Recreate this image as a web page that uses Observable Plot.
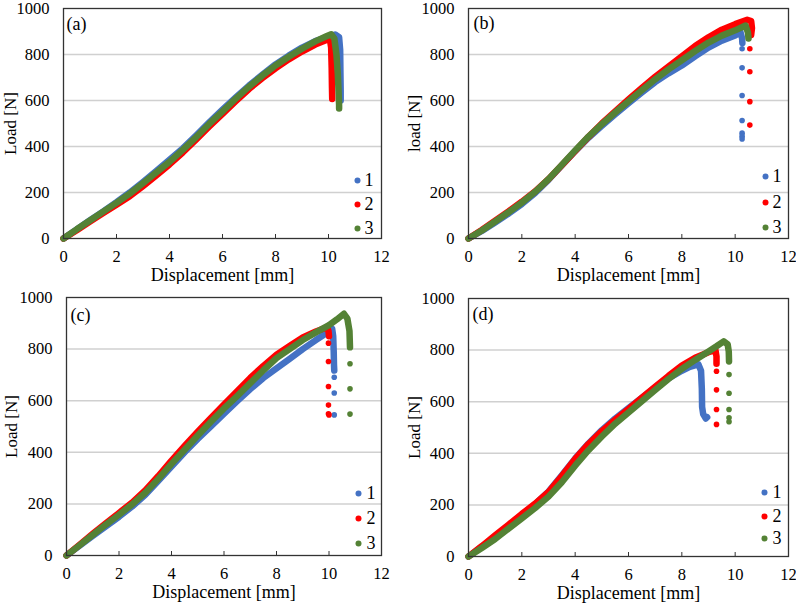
<!DOCTYPE html>
<html>
<head>
<meta charset="utf-8">
<script src="https://cdn.jsdelivr.net/npm/d3@7"></script>
<script src="https://cdn.jsdelivr.net/npm/@observablehq/plot@0.6"></script>
<style>
  body { margin: 0; background: #fff; }
  #chart { position: relative; width: 796px; height: 604px; overflow: hidden; background: #fff; }
  .panel { position: absolute; }
  #chart svg, #chart svg g, #chart svg text { font-family: "Liberation Serif", "DejaVu Serif", serif !important; }
  #chart g[aria-label="y-axis tick label"], #chart g[aria-label="x-axis tick label"] { font-size: 16.5px !important; }
</style>
</head>
<body>
<div id="chart"></div>
<script>
// axes
const xTicks = [0, 2, 4, 6, 8, 10, 12];
const yTicks = [0, 200, 400, 600, 800, 1000];
const gridLoads = [200, 400, 600, 800];
const specimens = ["1", "2", "3"];
const colors = ["#4472C4", "#FF0000", "#548235"];

// [displacement mm, load N]
// (a)
const a1 = [[0,0],[0.5,40],[1,80],[1.5,118],[2,158],[2.5,200],[3,246],[3.5,294],[4,342],[4.5,392],[5,448],[5.5,505],[6,560],[6.5,613],[7,665],[7.5,712],[8,757],[8.5,795],[9,830],[9.5,858],[10,878],[10.25,887],[10.4,875],[10.44,820],[10.45,720],[10.46,640],[10.46,600]];
const a2 = [[0,0],[0.5,36],[1,74],[1.5,111],[2,147],[2.5,184],[3,228],[3.5,274],[4,322],[4.5,374],[5,430],[5.5,487],[6,542],[6.5,597],[7,650],[7.5,697],[8,740],[8.5,779],[9,813],[9.5,843],[9.9,862],[10.05,868],[10.1,830],[10.12,740],[10.13,660],[10.14,607]];
const a3 = [[0,0],[0.5,40],[1,78],[1.5,117],[2,155],[2.5,195],[3,240],[3.5,287],[4,333],[4.5,385],[5,440],[5.5,498],[6,553],[6.5,608],[7,660],[7.5,708],[8,752],[8.5,790],[9,825],[9.5,857],[9.9,878],[10.1,888],[10.22,870],[10.3,800],[10.35,720],[10.38,640],[10.4,580],[10.4,565]];
// (b)
const b1 = [[0,0],[0.5,33],[1,70],[1.5,108],[2,150],[2.5,198],[3,255],[3.5,318],[4,380],[4.5,438],[5,490],[5.5,540],[6,588],[6.5,635],[7,680],[7.5,718],[8,752],[8.5,792],[9,830],[9.5,860],[10,883],[10.2,897],[10.26,870],[10.27,850]];
const b1Tail = [[10.26,825],[10.26,742],[10.26,622],[10.26,513],[10.26,458],[10.26,445],[10.26,433]];
const b2 = [[0,0],[0.5,37],[1,78],[1.5,118],[2,160],[2.5,205],[3,258],[3.5,318],[4,380],[4.5,442],[5,500],[5.5,553],[6,605],[6.5,655],[7,703],[7.5,748],[8,792],[8.5,837],[9,875],[9.5,908],[10,932],[10.45,951],[10.6,945],[10.63,915],[10.6,885]];
const b2Tail = [[10.55,825],[10.55,725],[10.55,595],[10.55,493]];
const b3 = [[0,0],[0.5,35],[1,74],[1.5,114],[2,156],[2.5,203],[3,258],[3.5,320],[4,383],[4.5,443],[5,497],[5.5,548],[6,597],[6.5,645],[7,692],[7.5,735],[8,775],[8.5,815],[9,852],[9.5,882],[10,905],[10.39,926],[10.48,895],[10.5,870]];
// (c)
const c1 = [[0,0],[0.5,38],[1,76],[1.5,113],[2,150],[2.5,190],[3,235],[3.5,290],[4,345],[4.5,400],[5,452],[5.5,500],[6,550],[6.5,598],[7,645],[7.5,688],[8,725],[8.5,762],[9,800],[9.5,835],[10,868],[10.12,879],[10.16,850],[10.18,790],[10.19,740],[10.2,717]];
const c1Tail = [[10.2,691],[10.2,630],[10.2,545]];
const c2 = [[0,0],[0.5,42],[1,84],[1.5,125],[2,165],[2.5,205],[3,252],[3.5,308],[4,368],[4.5,425],[5,480],[5.5,533],[6,585],[6.5,637],[7,688],[7.5,735],[8,778],[8.5,812],[9,845],[9.5,868],[9.93,885],[9.98,870],[10,850]];
const c2Tail = [[9.98,823],[9.98,752],[9.98,655],[9.98,583],[9.98,549],[10,545]];
const c3 = [[0,0],[0.5,40],[1,80],[1.5,120],[2,158],[2.5,198],[3,243],[3.5,297],[4,355],[4.5,410],[5,465],[5.5,518],[6,570],[6.5,618],[7,668],[7.5,718],[8,765],[8.5,800],[9,835],[9.5,865],[10,893],[10.3,915],[10.57,937],[10.7,918],[10.78,870],[10.8,807]];
const c3Tail = [[10.8,743],[10.8,646],[10.8,548]];
// (d)
const d1 = [[0,0],[0.5,38],[1,76],[1.5,117],[2,158],[2.5,203],[3,252],[3.5,315],[4,380],[4.5,438],[5,490],[5.5,535],[6,575],[6.5,615],[7,655],[7.5,690],[8,720],[8.3,735],[8.62,745],[8.72,720],[8.75,650],[8.76,580],[8.8,552],[8.9,535],[8.95,540]];
const d2 = [[0,0],[0.5,40],[1,82],[1.5,123],[2,165],[2.5,205],[3,250],[3.5,312],[4,378],[4.5,436],[5,486],[5.5,530],[6,572],[6.5,615],[7,658],[7.5,700],[8,740],[8.5,770],[9,792],[9.26,800],[9.3,775],[9.3,747]];
const d2Tail = [[9.3,718],[9.3,646],[9.3,570],[9.3,512]];
const d3 = [[0,0],[0.5,33],[1,68],[1.5,108],[2,148],[2.5,188],[3,232],[3.5,288],[4,352],[4.5,412],[5,465],[5.5,515],[6,558],[6.5,602],[7,645],[7.5,688],[8,727],[8.5,762],[9,795],[9.3,815],[9.57,834],[9.72,822],[9.76,795],[9.77,756]];
const d3Tail = [[9.77,705],[9.77,633],[9.77,570],[9.77,538],[9.77,522]];

const panels = [
  {tag: "(a)", yLabel: "Load [N]", curves: [a1, a2, a3], tails: [[], [], []],
   left: 0, top: 0, width: 398, height: 290, ml: 63, mr: 17, mt: 8, mb: 52,
   tagDx: 3, tagDy: 16, legDot: -24, legText: -17, legDy: [-58, -34, -10], yLabDx: -53},
  {tag: "(b)", yLabel: "load [N]", curves: [b1, b2, b3], tails: [b1Tail, b2Tail, []],
   left: 400, top: 0, width: 396, height: 290, ml: 68, mr: 8, mt: 8, mb: 52,
   tagDx: 5, tagDy: 15, legDot: -23, legText: -16, legDy: [-62, -36, -11], yLabDx: -54},
  {tag: "(c)", yLabel: "Load [N]", curves: [c1, c2, c3], tails: [c1Tail, c2Tail, c3Tail],
   left: 0, top: 284, width: 398, height: 320, ml: 66, mr: 17, mt: 13, mb: 49,
   tagDx: 4, tagDy: 18, legDot: -23, legText: -15, legDy: [-62, -37, -12], yLabDx: -55},
  {tag: "(d)", yLabel: "Load [N]", curves: [d1, d2, d3], tails: [[], d2Tail, d3Tail],
   left: 400, top: 284, width: 396, height: 320, ml: 68, mr: 8, mt: 14, mb: 48,
   tagDx: 4, tagDy: 16, legDot: -24, legText: -16, legDy: [-64, -40, -18], yLabDx: -54}
];

const font = "'Liberation Serif', 'DejaVu Serif', serif";
const chart = document.getElementById("chart");

function drawPanel(p) {
  const innerH = p.height - p.mt - p.mb;
  const txt = {fontFamily: font};
  const marks = [
    Plot.gridY(gridLoads, {stroke: "#d0d0d0", strokeOpacity: 1, strokeWidth: 1.5}),
    Plot.ruleX(xTicks.slice(1, -1), {stroke: "#333", insetTop: innerH - 4}),
    Plot.axisY(yTicks, {...txt, tickSize: 0, tickPadding: 14, label: null, fontSize: 16.5, tickFormat: d => String(d)}),
    Plot.axisX(xTicks, {...txt, tickSize: 0, tickPadding: 12, label: null, fontSize: 16.5, tickFormat: d => String(d)}),
    Plot.text(["Displacement [mm]"], {...txt, text: d => d, frameAnchor: "bottom", dy: 30, lineAnchor: "top", fontSize: 18}),
    Plot.text([p.yLabel], {...txt, text: d => d, frameAnchor: "left", dx: p.yLabDx, rotate: -90, textAnchor: "middle", lineAnchor: "middle", fontSize: 17}),
    Plot.text([p.tag], {...txt, text: d => d, frameAnchor: "top-left", dx: p.tagDx, dy: p.tagDy, textAnchor: "start", lineAnchor: "middle", fontSize: 18})
  ];
  p.curves.forEach((curve, i) => {
    marks.push(Plot.line(curve, {x: d => d[0], y: d => d[1], stroke: colors[i], strokeWidth: 6.5,
      strokeLinejoin: "round", strokeLinecap: "round"}));
    if (p.tails[i].length) {
      marks.push(Plot.dot(p.tails[i], {x: d => d[0], y: d => d[1], r: 2.8, fill: colors[i], stroke: "none"}));
    }
  });
  specimens.forEach((s, i) => {
    marks.push(Plot.dot([s], {frameAnchor: "bottom-right", dx: p.legDot, dy: p.legDy[i], r: 3, fill: colors[i], stroke: "none"}));
    marks.push(Plot.text([s], {...txt, text: d => d, frameAnchor: "bottom-right", dx: p.legText, dy: p.legDy[i],
      textAnchor: "start", lineAnchor: "middle", fontSize: 18}));
  });
  marks.push(Plot.frame({stroke: "#333", strokeWidth: 1.3}));

  const svg = Plot.plot({
    width: p.width,
    height: p.height,
    marginLeft: p.ml,
    marginRight: p.mr,
    marginTop: p.mt,
    marginBottom: p.mb,
    style: {background: "#fff", color: "#000", fontFamily: font, fontSize: "16px"},
    x: {domain: [0, 12]},
    y: {domain: [0, 1000]},
    marks
  });
  const div = document.createElement("div");
  div.className = "panel";
  div.style.left = p.left + "px";
  div.style.top = p.top + "px";
  div.appendChild(svg);
  chart.appendChild(div);
}

panels.forEach(drawPanel);
</script>
</body>
</html>
